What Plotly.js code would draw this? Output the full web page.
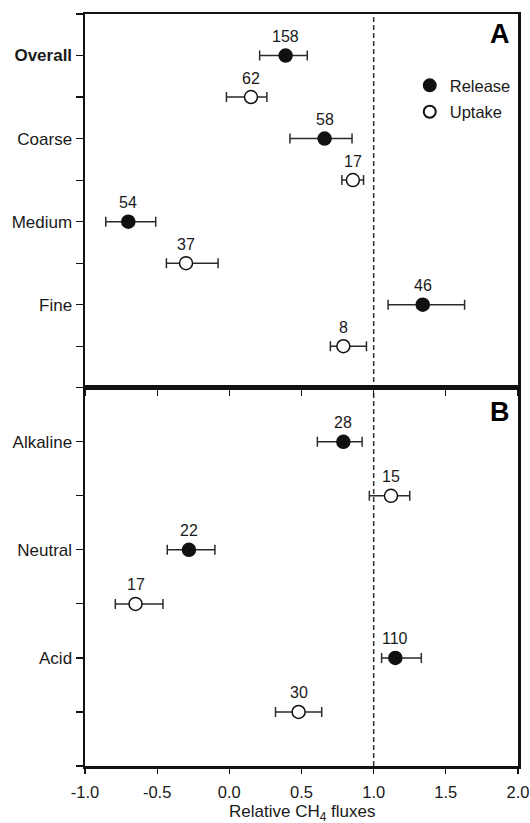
<!DOCTYPE html>
<html>
<head>
<meta charset="utf-8">
<script src="https://cdn.plot.ly/plotly-3.0.1.min.js"></script>
<style>html,body{margin:0;padding:0;background:#fff;}#chart{width:530px;height:823px;}</style>
</head>
<body>
<div id="chart"></div>
<script>
// Panel A: soil texture
const panelA_labels = ['Overall', 'Coarse', 'Medium', 'Fine'];
const relA_mean = [0.39, 0.66, -0.70, 1.34];
const relA_lo   = [0.21, 0.42, -0.856, 1.10];
const relA_hi   = [0.54, 0.85, -0.51, 1.63];
const relA_n    = [158, 58, 54, 46];
const uptA_mean = [0.15, 0.856, -0.30, 0.79];
const uptA_lo   = [-0.02, 0.78, -0.436, 0.70];
const uptA_hi   = [0.26, 0.93, -0.078, 0.95];
const uptA_n    = [62, 17, 37, 8];

// Panel B: soil pH
const panelB_labels = ['Alkaline', 'Neutral', 'Acid'];
const relB_mean = [0.79, -0.28, 1.15];
const relB_lo   = [0.61, -0.43, 1.055];
const relB_hi   = [0.92, -0.10, 1.33];
const relB_n    = [28, 22, 110];
const uptB_mean = [1.12, -0.65, 0.48];
const uptB_lo   = [0.97, -0.79, 0.32];
const uptB_hi   = [1.25, -0.46, 0.64];
const uptB_n    = [15, 17, 30];

const xTicks = [-1.0, -0.5, 0.0, 0.5, 1.0, 1.5, 2.0];
const xTickLabels = ['-1.0', '-0.5', '0.0', '0.5', '1.0', '1.5', '2.0'];
const xTitle = 'Relative CH<sub>4</sub> fluxes';
const refLine = 1.0;

const FONT = 'Arial, "Liberation Sans", Helvetica, sans-serif';
const TXT = '#1a1a1a';

function rowsRel(n) { return Array.from({length: n}, (_, i) => 2 * i + 1); }
function rowsUpt(n) { return Array.from({length: n}, (_, i) => 2 * i + 2); }

function errX(mean, lo, hi) {
  return {
    type: 'data', symmetric: false,
    array: mean.map((m, i) => hi[i] - m),
    arrayminus: mean.map((m, i) => m - lo[i]),
    color: '#2b2b2b', thickness: 1.5, width: 5
  };
}

function makeTrace(mean, lo, hi, rows, filled, xa, ya, name, showlegend) {
  return {
    type: 'scatter', mode: 'markers',
    x: mean, y: rows, xaxis: xa, yaxis: ya,
    name: name, legendgroup: name, showlegend: showlegend,
    error_x: errX(mean, lo, hi),
    marker: {
      size: 13, symbol: 'circle',
      color: filled ? '#111111' : '#ffffff',
      line: {color: '#111111', width: 1.5}
    },
    hoverinfo: 'skip'
  };
}

const traces = [
  makeTrace(relA_mean, relA_lo, relA_hi, rowsRel(4), true, 'x', 'y', 'Release', true),
  makeTrace(uptA_mean, uptA_lo, uptA_hi, rowsUpt(4), false, 'x', 'y', 'Uptake', true),
  makeTrace(relB_mean, relB_lo, relB_hi, rowsRel(3), true, 'x2', 'y2', 'Release', false),
  makeTrace(uptB_mean, uptB_lo, uptB_hi, rowsUpt(3), false, 'x2', 'y2', 'Uptake', false)
];

const annotations = [];
function addCounts(mean, rows, counts, xref, yref) {
  mean.forEach((m, i) => {
    annotations.push({
      x: m, y: rows[i], xref: xref, yref: yref, text: String(counts[i]),
      showarrow: false, yshift: 19, font: {family: FONT, size: 16, color: TXT}
    });
  });
}
addCounts(relA_mean, rowsRel(4), relA_n, 'x', 'y');
addCounts(uptA_mean, rowsUpt(4), uptA_n, 'x', 'y');
addCounts(relB_mean, rowsRel(3), relB_n, 'x2', 'y2');
addCounts(uptB_mean, rowsUpt(3), uptB_n, 'x2', 'y2');

annotations.push({xref: 'paper', yref: 'paper', x: 0.986, y: 0.996, xanchor: 'right', yanchor: 'top',
  text: '<b>A</b>', showarrow: false, font: {family: FONT, size: 27, color: '#000'}});
annotations.push({xref: 'paper', yref: 'paper', x: 0.986, y: 0.494, xanchor: 'right', yanchor: 'top',
  text: '<b>B</b>', showarrow: false, font: {family: FONT, size: 27, color: '#000'}});
// x-axis title
annotations.push({xref: 'paper', yref: 'paper', x: 0.5, y: 0, xanchor: 'center', yanchor: 'middle',
  yshift: -47, text: xTitle, showarrow: false, font: {family: FONT, size: 17, color: TXT}});

// labelled ticks on category rows, unlabelled minor ticks on the others
function yTicks(labels, boldFirst) {
  const vals = [], text = [], minor = [];
  labels.forEach((l, i) => {
    vals.push(2 * i + 1);
    text.push((boldFirst && i === 0) ? '<b>' + l + '</b>' : l);
  });
  for (let i = 0; i <= labels.length * 2 + 1; i++) { if (i % 2 === 0 || i === labels.length * 2 + 1) minor.push(i); }
  return {vals, text, minor};
}
const tA = yTicks(panelA_labels, true);
const tB = yTicks(panelB_labels, false);

const axLine = {showline: true, linecolor: '#111', linewidth: 2.5, mirror: true, zeroline: false, showgrid: false,
  ticks: 'outside', tickcolor: '#111', tickwidth: 1.2};
const yMinor = (vals) => ({tickvals: vals, ticks: 'outside', ticklen: 7, tickwidth: 1.2, tickcolor: '#111', showgrid: false});

const layout = {
  width: 530, height: 823,
  margin: {l: 85, r: 12, t: 14, b: 57},
  paper_bgcolor: '#fff', plot_bgcolor: '#fff',
  font: {family: FONT, size: 16, color: TXT},
  showlegend: true,
  legend: {x: 0.75, y: 0.928, xanchor: 'left', yanchor: 'top', bgcolor: 'rgba(0,0,0,0)',
    font: {family: FONT, size: 16.5, color: TXT}, traceorder: 'grouped', tracegroupgap: 2, itemsizing: 'constant'},
  xaxis: Object.assign({}, axLine, {anchor: 'y', domain: [0, 1], range: [-1, 2], tickvals: xTicks,
    showticklabels: false, ticklen: 6}),
  yaxis: Object.assign({}, axLine, {anchor: 'x', domain: [0.503, 1], range: [9, 0],
    tickvals: tA.vals, ticktext: tA.text, ticklen: 7, tickfont: {family: FONT, size: 17, color: TXT},
    minor: yMinor(tA.minor)}),
  xaxis2: Object.assign({}, axLine, {anchor: 'y2', domain: [0, 1], range: [-1, 2], tickvals: xTicks,
    ticktext: xTickLabels, ticklen: 5, ticklabelstandoff: 5, tickfont: {family: FONT, size: 16.5, color: TXT}}),
  yaxis2: Object.assign({}, axLine, {anchor: 'x2', domain: [0, 0.503], range: [7, 0],
    tickvals: tB.vals, ticktext: tB.text, ticklen: 7, tickfont: {family: FONT, size: 17, color: TXT},
    minor: yMinor(tB.minor)}),
  shapes: [
    {type: 'line', xref: 'x', yref: 'paper', x0: refLine, x1: refLine, y0: 0, y1: 1,
     line: {color: '#333', width: 1.5, dash: '5px,3px'}, layer: 'below'}
  ],
  annotations: annotations
};

Plotly.newPlot('chart', traces, layout, {displayModeBar: false, staticPlot: true});
</script>
</body>
</html>
